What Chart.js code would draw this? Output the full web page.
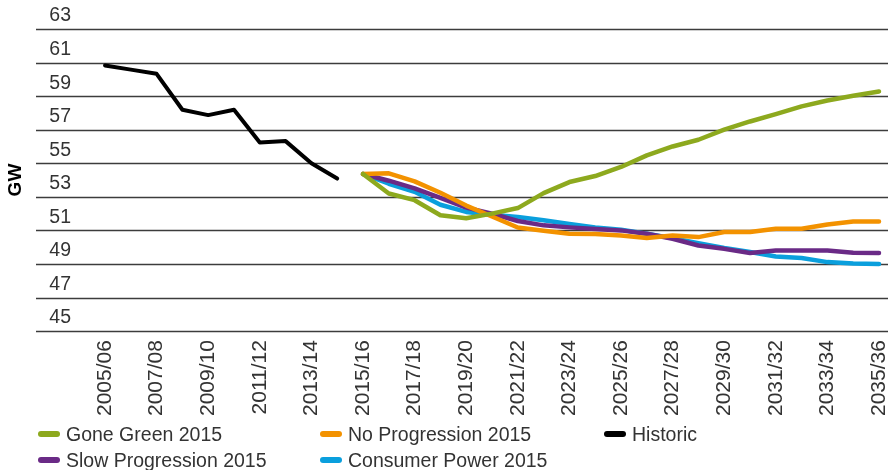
<!DOCTYPE html>
<html>
<head>
<meta charset="utf-8">
<script src="https://cdn.jsdelivr.net/npm/chart.js@4/dist/chart.umd.min.js"></script>
<style>
  html, body { margin: 0; padding: 0; background: #fff; }
  #wrap { position: relative; width: 888px; height: 470px; }
  #legend { position: absolute; left: 0; top: 0; width: 888px; height: 470px; pointer-events: none;
    font-family: "Liberation Sans", Arial, sans-serif; font-size: 19.5px; color: #333; }
  .item { position: absolute; display: flex; align-items: center; white-space: nowrap; height: 24px; }
  .mark { width: 22px; height: 6px; border-radius: 3px; margin-right: 6px; }
</style>
</head>
<body>
<div id="wrap">
  <canvas id="chart" width="888" height="470"></canvas>
  <div id="legend"></div>
</div>
<script>
  // Financial years on the x axis
  const years = [
    "2005/06", "2006/07", "2007/08", "2008/09", "2009/10", "2010/11", "2011/12",
    "2012/13", "2013/14", "2014/15", "2015/16", "2016/17", "2017/18", "2018/19",
    "2019/20", "2020/21", "2021/22", "2022/23", "2023/24", "2024/25", "2025/26",
    "2026/27", "2027/28", "2028/29", "2029/30", "2030/31", "2031/32", "2032/33",
    "2033/34", "2034/35", "2035/36"
  ];

  const historic = [60.83, 60.58, 60.33, 58.19, 57.87, 58.19, 56.24, 56.32, 55.0, 54.09];

  // Scenario series start at 2015/16
  const goneGreen = [54.36, 53.2, 52.8, 51.9, 51.72, 52.0, 52.33, 53.22, 53.88, 54.24,
    54.78, 55.47, 56.0, 56.4, 57.0, 57.49, 57.93, 58.39, 58.74, 59.02, 59.28];
  const noProgression = [54.36, 54.4, 53.92, 53.24, 52.48, 51.83, 51.17, 50.98, 50.8, 50.78,
    50.7, 50.55, 50.7, 50.6, 50.9, 50.9, 51.1, 51.1, 51.35, 51.53, 51.53];
  const slowProgression = [54.36, 53.96, 53.5, 52.94, 52.36, 52.0, 51.56, 51.3, 51.18, 51.08,
    51.0, 50.8, 50.5, 50.1, 49.9, 49.65, 49.8, 49.8, 49.8, 49.67, 49.65];
  const consumerPower = [54.36, 53.78, 53.3, 52.53, 52.1, 51.93, 51.8, 51.6, 51.38, 51.17,
    51.04, 50.8, 50.54, 50.24, 49.95, 49.71, 49.45, 49.35, 49.11, 49.03, 49.0];

  const yMin = 45, yMax = 63, yStep = 2;

  const histFull = historic.concat(new Array(years.length - historic.length).fill(null));
  const pad = (arr) => new Array(years.length - arr.length).fill(null).concat(arr);

  const series = [
    { label: "Gone Green 2015", data: pad(goneGreen), color: "#8DA91E" },
    { label: "No Progression 2015", data: pad(noProgression), color: "#F39200" },
    { label: "Historic", data: histFull, color: "#000000" },
    { label: "Slow Progression 2015", data: pad(slowProgression), color: "#6A2A86" },
    { label: "Consumer Power 2015", data: pad(consumerPower), color: "#0A9FDD" }
  ];

  // horizontal lines run under the tick labels, so draw them by hand
  const fullGrid = {
    id: "fullGrid",
    beforeDatasetsDraw(chart) {
      const ctx = chart.ctx;
      const y = chart.scales.y;
      ctx.save();
      ctx.strokeStyle = "#3c3c3c";
      ctx.lineWidth = 1.3;
      y.ticks.forEach((t) => {
        const py = Math.round(y.getPixelForValue(t.value)) + 0.5;
        ctx.beginPath();
        ctx.moveTo(36, py);
        ctx.lineTo(chart.width, py);
        ctx.stroke();
      });
      ctx.restore();
    }
  };

  const chart = new Chart(document.getElementById("chart"), {
    type: "line",
    data: {
      labels: years,
      datasets: series.map((s) => ({
        label: s.label,
        data: s.data,
        borderColor: s.color,
        backgroundColor: s.color,
        borderWidth: s.label === "Historic" ? 4 : 4.5,
        pointRadius: 0,
        tension: 0,
        borderJoinStyle: "round",
        borderCapStyle: "round",
        spanGaps: false,
        clip: false
      }))
    },
    options: {
      responsive: false,
      animation: false,
      layout: { padding: { top: 29, right: 9, bottom: 45, left: 0 } },
      plugins: {
        legend: { display: false },
        tooltip: { enabled: false }
      },
      scales: {
        x: {
          offset: false,
          grid: { display: false, drawTicks: false },
          border: { display: false },
          afterFit: (scale) => { scale.paddingLeft = 0; scale.paddingRight = 0; },
          ticks: {
            autoSkip: false,
            minRotation: 90,
            maxRotation: 90,
            padding: 9,
            color: "#333",
            font: { family: "'Liberation Sans', Arial, sans-serif", size: 21 },
            callback: (v, i) => (i % 2 === 0 ? years[i] : "")
          }
        },
        y: {
          min: yMin,
          max: yMax,
          grid: { display: false, drawTicks: false },
          border: { display: false },
          afterFit: (scale) => { scale.width = 105; scale.paddingTop = 0; scale.paddingBottom = 0; },
          title: {
            display: true,
            text: "GW",
            color: "#000",
            padding: { top: 4, bottom: 0 },
            font: { family: "'Liberation Sans', Arial, sans-serif", size: 19, weight: "bold" }
          },
          ticks: {
            stepSize: yStep,
            padding: 34,
            labelOffset: -13,
            color: "#333",
            font: { family: "'Liberation Sans', Arial, sans-serif", size: 19.5 }
          }
        }
      }
    },
    plugins: [fullGrid]
  });

  // legend in fixed columns, two rows
  const legendPos = [
    { x: 38, y: 422 }, { x: 320, y: 422 }, { x: 604, y: 422 },
    { x: 38, y: 448 }, { x: 320, y: 448 }
  ];
  const legendEl = document.getElementById("legend");
  series.forEach((s, i) => {
    const item = document.createElement("div");
    item.className = "item";
    item.style.left = legendPos[i].x + "px";
    item.style.top = legendPos[i].y + "px";
    item.innerHTML = `<span class="mark" style="background:${s.color}"></span><span>${s.label}</span>`;
    legendEl.appendChild(item);
  });
</script>
</body>
</html>
